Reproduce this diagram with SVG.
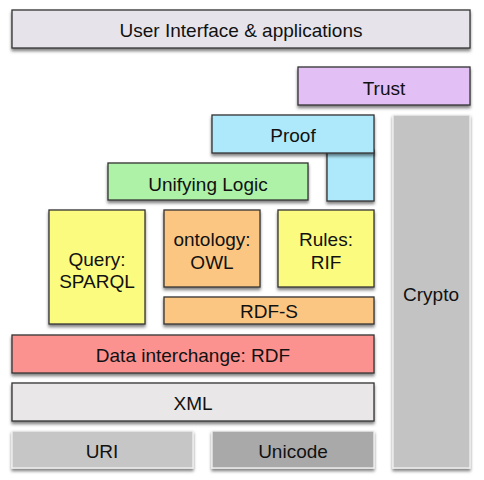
<svg xmlns="http://www.w3.org/2000/svg" width="484" height="480" viewBox="0 0 484 480">
<defs>
<filter id="sh" x="-10%" y="-10%" width="120%" height="140%">
<feDropShadow dx="0" dy="2.5" stdDeviation="1.6" flood-color="#000" flood-opacity="0.5"/>
</filter>
</defs>
<style>
rect{filter:url(#sh);}
.b{stroke:#333;stroke-width:1.3;}
.g{stroke:#f2f2f2;stroke-width:1.3;}
text{font-family:"Liberation Sans",Arial,sans-serif;font-size:19px;fill:#111;text-anchor:middle;}
</style>
<rect width="484" height="480" fill="#fff" style="filter:none"/>
<g id="ui"><rect class="b" x="12" y="10" width="458" height="38" fill="#e6e4ea"/><text x="241" y="37">User Interface &amp; applications</text></g>
<g id="trust"><rect class="b" x="298" y="67" width="172" height="38" fill="#e2c0f5"/><text x="384" y="95">Trust</text></g>
<g id="crypto"><rect class="g" x="393" y="115" width="77" height="353" fill="#c3c3c3"/><text x="431" y="301">Crypto</text></g>
<g id="proof"><rect class="b" x="327" y="150" width="47" height="51" fill="#aee9fb"/><rect class="b" x="212" y="115" width="162" height="38" fill="#aee9fb"/><text x="293" y="142">Proof</text></g>
<g id="logic"><rect class="b" x="108" y="163" width="200" height="37" fill="#aef2a8"/><text x="208" y="191">Unifying Logic</text></g>
<g id="query"><rect class="b" x="49" y="210" width="96" height="114" fill="#fbfb80"/><text x="97" y="266">Query:</text><text x="97" y="288">SPARQL</text></g>
<g id="owl"><rect class="b" x="164" y="210" width="96" height="77" fill="#fbc682"/><text x="212" y="246">ontology:</text><text x="212" y="269">OWL</text></g>
<g id="rif"><rect class="b" x="278" y="210" width="96" height="77" fill="#fbfb80"/><text x="326" y="246">Rules:</text><text x="326" y="269">RIF</text></g>
<g id="rdfs"><rect class="b" x="164" y="297" width="210" height="27" fill="#fbc682"/><text x="269" y="318">RDF-S</text></g>
<g id="rdf"><rect class="b" x="12" y="335" width="362" height="38" fill="#fc9290"/><text x="193" y="362">Data interchange: RDF</text></g>
<g id="xml"><rect class="b" x="12" y="383" width="362" height="38" fill="#e9e7e7"/><text x="193" y="410">XML</text></g>
<g id="uri"><rect class="g" x="12" y="431" width="181" height="37" fill="#c6c6c6"/><text x="102" y="458">URI</text></g>
<g id="unicode"><rect class="g" x="212" y="431" width="162" height="37" fill="#a9a9a9"/><text x="293" y="458">Unicode</text></g>
<g id="connectors"/>
</svg>
